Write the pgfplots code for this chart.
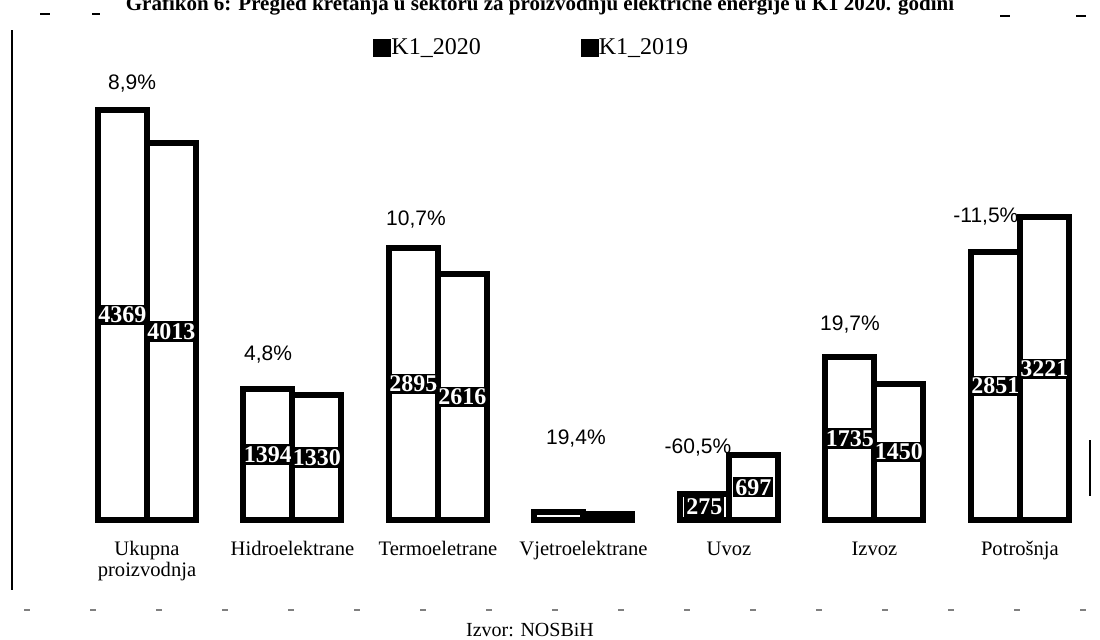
\documentclass[border=0pt]{standalone}
\usepackage{fontspec}
\setmainfont{Liberation Serif}
\newfontfamily\sansf{Liberation Sans}
\usepackage{pgfplots}
\pgfplotsset{compat=1.18}
\usepackage{pgfplotstable}

\pgfplotstableread{
x v2020 v2019
0 4369 4013
1 1394 1330
2 2895 2616
3 80 67
4 275 697
5 1735 1450
6 2851 3221
}\data

\pgfplotstableread{
x v2020 v2019
0 4369 4013
1 1394 1330
2 2895 2616
4 275 697
5 1735 1450
6 2851 3221
}\labels

\pgfplotstableread{
x y lab
-0.103 4355 8,9
0.832 1462 4,8
1.849 2908 10,7
2.948 568 19,4
3.787 472 -60,5
4.832 1791 19,7
5.766 2940 -11,5
}\pct

\begin{document}
\begin{tikzpicture}
\useasboundingbox (0,0) rectangle (550pt,320pt);
\begin{axis}[
  at={(29.85pt,60pt)}, anchor=south west,
  scale only axis, width=516.5pt, height=216pt,
  xmin=-0.6, xmax=6.5, ymin=0, ymax=4600,
  clip=false,
  axis line style={draw=none}, tick style={draw=none},
  ytick=\empty,
  xtick={0,...,6},
  xticklabels={{Ukupna\\proizvodnja},Hidroelektrane,Termoeletrane,Vjetroelektrane,Uvoz,Izvoz,Potrošnja},
  xticklabel style={font=\fontsize{10.3}{10.3}\selectfont, align=center, anchor=north, yshift=-7pt},
  typeset ticklabels with strut,
  legend style={at={(0.458,1.093)}, anchor=center, draw=none, fill=none, legend columns=2,
    font=\fontsize{12}{13}\selectfont, /tikz/every even column/.append style={column sep=48pt},
    /tikz/every odd column/.append style={column sep=-2pt}},
  legend image code/.code={\fill[black] (0pt,-3pt) rectangle (6pt,3pt);},
]
\addplot[ybar, bar width=24.5pt, bar shift=-12.25pt, draw=black, fill=white, line width=3pt] table[x=x,y=v2020]{\data};
\addlegendentry{K1\_2020}
\addplot[ybar, bar width=24.5pt, bar shift=12.25pt, draw=black, fill=white, line width=3pt] table[x=x,y=v2019]{\data};
\addlegendentry{K1\_2019}

\addplot[draw=none, forget plot, nodes near coords, point meta=explicit symbolic,
  every node near coord/.append style={xshift=-12.25pt, anchor=center, fill=black, text=white,
    font=\bfseries\fontsize{12}{12}\selectfont, inner sep=1pt}]
  table[x=x, y expr=\thisrow{v2020}/2, meta=v2020]{\labels};
\addplot[draw=none, forget plot, nodes near coords, point meta=explicit symbolic,
  every node near coord/.append style={xshift=12.25pt, anchor=center, fill=black, text=white,
    font=\bfseries\fontsize{12}{12}\selectfont, inner sep=1pt}]
  table[x=x, y expr=\thisrow{v2019}/2, meta=v2019]{\labels};

\addplot[draw=none, forget plot, nodes near coords={\pgfplotspointmeta\%}, point meta=explicit symbolic,
  every node near coord/.append style={anchor=south, yshift=6pt, font=\sansf\fontsize{10.5}{12}\selectfont}]
  table[x=x, y=y, meta=lab]{\pct};
\end{axis}
\node[anchor=base, font=\bfseries\fontsize{10.5}{12}\selectfont] at (270pt,314.5pt) {Grafikon 6: Pregled kretanja u sektoru za proizvodnju električne energije u K1 2020. godini};
\node[font=\fontsize{10}{12}\selectfont] at (265pt,5pt) {Izvor: NOSBiH};
\draw[line width=1pt] (6pt,25pt) -- (6pt,305pt);
\draw[line width=0.8pt] (20pt,313pt) -- (25pt,313pt);
\draw[line width=0.8pt] (46pt,313pt) -- (50pt,313pt);
\draw[line width=0.8pt] (500pt,312pt) -- (505pt,312pt);
\draw[line width=0.8pt] (538pt,312pt) -- (543pt,312pt);
\draw[line width=0.6pt, gray, dash pattern=on 3pt off 30pt] (12pt,15pt) -- (545pt,15pt);
\draw[line width=1.2pt] (545pt,72pt) -- (545pt,100pt);
\end{tikzpicture}
\end{document}
